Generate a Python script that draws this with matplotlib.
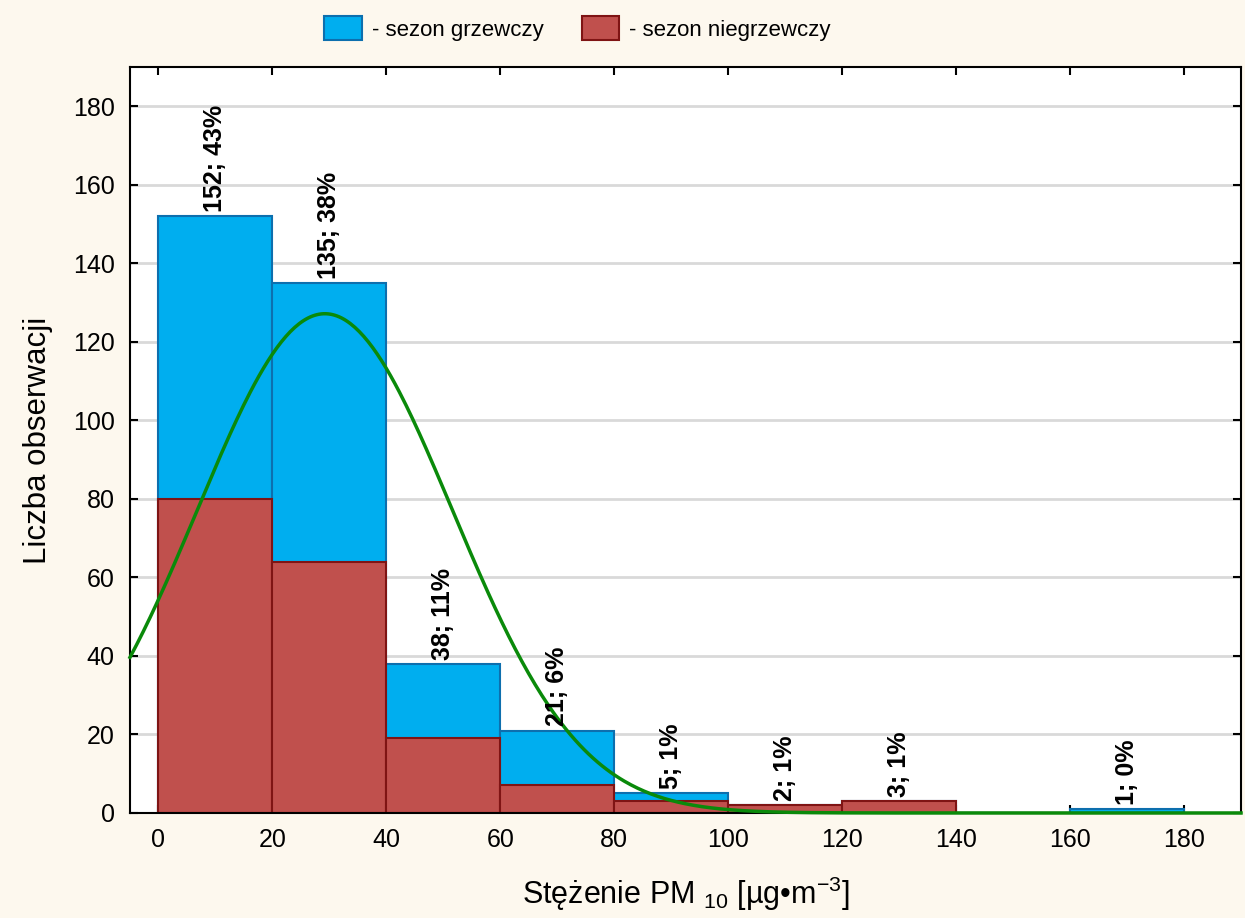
import numpy as np
import matplotlib
matplotlib.use('Agg')
import matplotlib.pyplot as plt
from matplotlib.patches import Patch

plt.rcParams['font.family'] = ['Liberation Sans', 'DejaVu Sans']
plt.rcParams['mathtext.fontset'] = 'custom'
plt.rcParams['mathtext.rm'] = 'Liberation Sans'
plt.rcParams['mathtext.it'] = 'Liberation Sans:italic'

# histogram data (bin edges 0..180, width 20)
bin_left = [0, 20, 40, 60, 80, 100, 120, 140, 160]
total_counts = [152, 135, 38, 21, 5, 2, 3, 0, 1]          # sezon grzewczy + niegrzewczy
nonheating_counts = [80, 64, 19, 7, 3, 2, 3, 0, 0]       # sezon niegrzewczy
bar_labels = ['152; 43%', '135; 38%', '38; 11%', '21; 6%', '5; 1%',
              '2; 1%', '3; 1%', '', '1; 0%']
bin_width = 20

# normal fit
fit_mean = 29.2
fit_sd = 22.4
n_obs = sum(total_counts)

blue = '#00aeef'
blue_edge = '#0d6fae'
red = '#c0504d'
red_edge = '#7f1414'
bg = '#fdf8ee'

fig = plt.figure(figsize=(12.45, 9.18), dpi=100, facecolor=bg)
ax = fig.add_axes([0.1044, 0.1144, 0.8924, 0.8126])
ax.set_facecolor('white')

ax.bar(bin_left, total_counts, width=bin_width, align='edge', color=blue,
       edgecolor=blue_edge, linewidth=1.5, zorder=2)
ax.bar(bin_left, nonheating_counts, width=bin_width, align='edge', color=red,
       edgecolor=red_edge, linewidth=1.5, zorder=3)

for x0, h, lab in zip(bin_left, total_counts, bar_labels):
    if lab:
        ax.annotate(lab, (x0 + bin_width / 2, h), xytext=(0, 3),
                    textcoords='offset points', rotation=90, ha='center',
                    va='bottom', fontsize=18, fontweight='bold', zorder=8)

xs = np.linspace(-5, 190, 500)
curve = n_obs * bin_width / (fit_sd * np.sqrt(2 * np.pi)) * np.exp(-(xs - fit_mean) ** 2 / (2 * fit_sd ** 2))
ax.plot(xs, curve, color='#0a8a0a', linewidth=2.5, zorder=6, clip_on=False)

ax.set_xlim(-5, 190)
ax.set_ylim(0, 190)
ax.set_xticks(range(0, 181, 20))
ax.set_yticks(range(0, 181, 20))
ax.yaxis.grid(True, color='#d9d9d9', linewidth=2)
ax.set_axisbelow(True)
ax.tick_params(direction='in', top=True, right=True, length=6, width=1.5,
               labelsize=18, pad=11)
for s in ax.spines.values():
    s.set_linewidth(1.5)
    s.set_zorder(4)

ax.set_xlabel('Stężenie PM $_{10}$ [µg•m$^{-3}$]', fontsize=22, labelpad=16)
ax.set_ylabel('Liczba obserwacji', fontsize=22.5, labelpad=14)

handles = [Patch(facecolor=blue, edgecolor=blue_edge, linewidth=1.5, label='- sezon grzewczy'),
           Patch(facecolor=red, edgecolor=red_edge, linewidth=1.5, label='- sezon niegrzewczy')]
fig.legend(handles=handles, loc='center', bbox_to_anchor=(0.464, 0.969), ncol=2,
           frameon=False, fontsize=16, handlelength=1.7, handleheight=1.25,
           handletextpad=0.45, columnspacing=1.7)

fig.savefig('out.png', dpi=100, facecolor=bg)
